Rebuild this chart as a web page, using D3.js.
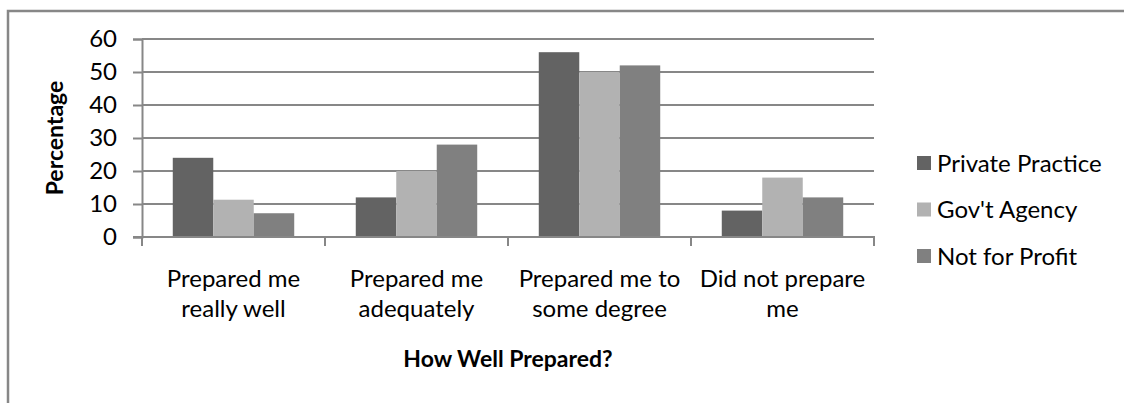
<!DOCTYPE html>
<html><head><meta charset="utf-8">
<script src="https://cdn.jsdelivr.net/npm/d3@7"></script>
<style>
html,body{margin:0;padding:0;background:#fff;}
svg{display:block;}
text{font-family:Lato, "Open Sans", sans-serif;fill:#000;}
</style></head>
<body><svg id="c" width="1124" height="403"></svg>
<script>
const categories = [["Prepared me","really well"],["Prepared me","adequately"],["Prepared me to","some degree"],["Did not prepare","me"]];
const seriesNames = ["Private Practice","Gov't Agency","Not for Profit"];
const privatePractice = [24, 12, 56, 8];
const govAgency = [11.3, 20, 50, 18];
const notForProfit = [7.2, 28, 52, 12];
const yTicks = [0,10,20,30,40,50,60];
const colors = ["#636363","#b2b2b2","#808080"];
const seriesValues = [privatePractice, govAgency, notForProfit];

(function(){
const svg = d3.select("#c");
const grid = "#878787";
const fs = 24;

svg.append("path").attr("d","M8,403 V11 H1124").attr("fill","none").attr("stroke",grid).attr("stroke-width",2.5);

const pl=142,pr=874,pt=39,pb=237;
const catIdx = categories.map((d,i)=>i);
const x0 = d3.scaleBand().domain(catIdx).range([pl,pr]).padding(0);
const x1 = d3.scaleBand().domain(d3.range(seriesNames.length)).range([0,x0.bandwidth()]).paddingInner(0).paddingOuter(0.76);
const y = d3.scaleLinear().domain([0,60]).range([pb,pt]);

svg.append("g").selectAll("line").data(yTicks.filter(d=>d>0)).join("line")
  .attr("x1",pl).attr("x2",pr).attr("y1",d=>y(d)).attr("y2",d=>y(d))
  .attr("stroke",grid).attr("stroke-width",2);

const gBars = svg.append("g");
seriesValues.forEach((vals,s)=>{
  gBars.selectAll(null).data(vals).join("rect")
    .attr("x",(d,i)=>x0(i)+x1(s)).attr("width",x1.bandwidth())
    .attr("y",d=>y(d)).attr("height",d=>y(0)-y(d))
    .attr("fill",colors[s]);
});

const yAxis = d3.axisLeft(y).tickValues(yTicks).tickSize(9).tickPadding(16).tickFormat(d3.format("d"));
const ga = svg.append("g").attr("transform",`translate(${pl},0)`).call(yAxis);
ga.select(".domain").attr("stroke",grid).attr("stroke-width",2);
ga.selectAll(".tick line").attr("stroke",grid).attr("stroke-width",2);
ga.selectAll(".tick text").attr("font-size",fs).attr("font-family","Lato").attr("fill","#000");

svg.append("line").attr("x1",pl-9).attr("x2",pr+1).attr("y1",pb).attr("y2",pb).attr("stroke",grid).attr("stroke-width",2);
const bounds = catIdx.map(i=>x0(i)).concat([x0(catIdx.length-1)+x0.bandwidth()]);
svg.append("g").selectAll("line").data(bounds).join("line")
  .attr("x1",d=>d).attr("x2",d=>d).attr("y1",pb).attr("y2",pb+9).attr("stroke",grid).attr("stroke-width",2);

const gl = svg.append("g");
categories.forEach((lines,i)=>{
  const t = gl.append("text").attr("text-anchor","middle").attr("font-size",fs);
  lines.forEach((ln,k)=>t.append("tspan").attr("x",x0(i)+x0.bandwidth()/2).attr("y",287+30*k).text(ln));
});

svg.append("text").attr("text-anchor","middle").attr("font-weight","bold").attr("font-size",23)
  .attr("x",(pl+pr)/2).attr("y",367).text("How Well Prepared?");
svg.append("text").attr("text-anchor","middle").attr("font-weight","bold").attr("font-size",23)
  .attr("transform",`translate(63,${(pt+pb)/2}) rotate(-90)`).text("Percentage");

const lg = svg.append("g");
seriesNames.forEach((n,i)=>{
  const cy = 163 + 46.5*i;
  lg.append("rect").attr("x",917).attr("y",cy-7).attr("width",14).attr("height",14).attr("fill",colors[i]);
  lg.append("text").attr("x",937).attr("y",cy+8.5).attr("font-size",fs).text(n);
});
})();
</script></body></html>
